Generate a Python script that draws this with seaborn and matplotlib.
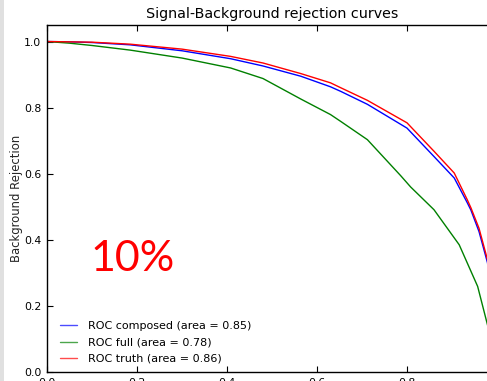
import matplotlib
matplotlib.use("Agg")
import matplotlib.pyplot as plt
from matplotlib.patches import Rectangle
import seaborn as sns
import pandas as pd

# Signal efficiency vs. background rejection for each classifier
eff_composed = [0.0, 0.05, 0.10, 0.185, 0.30, 0.408, 0.48, 0.564, 0.63, 0.653,
                0.712, 0.80, 0.860, 0.905, 0.934, 0.942, 0.960, 0.979, 1.0]
rej_composed = [1.0, 0.999, 0.997, 0.990, 0.972, 0.948, 0.926, 0.895, 0.863, 0.849,
                0.810, 0.738, 0.652, 0.587, 0.512, 0.490, 0.425, 0.330, 0.0]

eff_full = [0.0, 0.05, 0.10, 0.185, 0.30, 0.408, 0.48, 0.564, 0.63, 0.653,
            0.712, 0.786, 0.808, 0.860, 0.916, 0.957, 0.979, 1.0]
rej_full = [1.0, 0.995, 0.988, 0.974, 0.950, 0.920, 0.888, 0.826, 0.779, 0.758,
            0.703, 0.594, 0.560, 0.491, 0.385, 0.259, 0.142, 0.0]

eff_truth = [0.0, 0.05, 0.10, 0.185, 0.30, 0.408, 0.48, 0.564, 0.63, 0.653,
             0.712, 0.80, 0.860, 0.905, 0.934, 0.942, 0.960, 0.979, 1.0]
rej_truth = [1.0, 0.999, 0.998, 0.992, 0.977, 0.955, 0.935, 0.903, 0.875, 0.860,
             0.822, 0.754, 0.668, 0.602, 0.521, 0.497, 0.435, 0.339, 0.0]

labels = ["ROC composed (area = 0.85)",
          "ROC full (area = 0.78)",
          "ROC truth (area = 0.86)"]
colors = ["blue", "green", "red"]

frames = []
for lab, ex, ry in zip(labels, [eff_composed, eff_full, eff_truth],
                       [rej_composed, rej_full, rej_truth]):
    frames.append(pd.DataFrame({"eff": ex, "rej": ry, "curve": lab}))
df = pd.concat(frames, ignore_index=True)

sns.set_theme(style="ticks")
plt.rcParams.update({
    "font.family": ["DejaVu Sans"],
    "xtick.direction": "in",
    "ytick.direction": "in",
    "xtick.top": True,
    "ytick.right": True,
    "xtick.major.size": 4,
    "ytick.major.size": 4,
    "xtick.major.width": 0.8,
    "ytick.major.width": 0.8,
    "axes.edgecolor": "black",
    "axes.linewidth": 1.0,
    "xtick.color": "black",
    "ytick.color": "black",
    "text.color": "black",
})

W, H = 487, 381
fig = plt.figure(figsize=(W / 100, H / 100), dpi=100)
fig.patch.set_facecolor("white")

# axes run past the right edge of the canvas
ax = fig.add_axes([47 / W, 9 / H, 450 / W, 347 / H])

sns.lineplot(data=df, x="eff", y="rej", hue="curve", hue_order=labels,
             palette=dict(zip(labels, colors)), linewidth=1.0, sort=False,
             estimator=None, ax=ax)

ax.set_xlim(0.0, 1.0)
ax.set_ylim(0.0, 1.05)
ax.set_xticks([0.0, 0.2, 0.4, 0.6, 0.8, 1.0])
ax.set_yticks([0.0, 0.2, 0.4, 0.6, 0.8, 1.0])
ax.tick_params(labelsize=7.8, pad=4)
ax.set_xlabel("")
ax.set_ylabel("Background Rejection", fontsize=8.4, labelpad=0.5)
ax.set_title("Signal-Background rejection curves", fontsize=10.3, pad=5)

leg = ax.legend(loc="lower left", bbox_to_anchor=(0.019, 0.0115),
                frameon=False, fontsize=8,
                handlelength=1.55, handletextpad=1.0, labelspacing=0.55,
                borderaxespad=0.0, borderpad=0.4)
for h in leg.get_lines():
    h.set_linewidth(1.0)
    h.set_alpha(0.7)

fig.text(90 / W, 1 - 271 / H, "10%", color="red", fontsize=31,
         family=["Lato", "DejaVu Sans"], ha="left", va="baseline")

# soft grey strip along the left edge
fig.patches.append(Rectangle((0, 0), 4 / W, 1, transform=fig.transFigure,
                             facecolor="#e0e0e0", edgecolor="none", zorder=5))

fig.savefig("out.png", dpi=100)
